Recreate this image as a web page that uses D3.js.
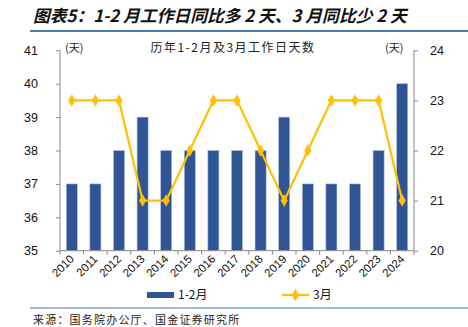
<!DOCTYPE html>
<html><head><meta charset="utf-8">
<script src="https://cdn.jsdelivr.net/npm/d3@7"></script>
<style>body{margin:0;background:#fff}svg{display:block}</style>
</head><body>
<script>
const years = ["2010","2011","2012","2013","2014","2015","2016","2017","2018","2019","2020","2021","2022","2023","2024"];
const janFeb = [37,37,38,39,38,38,38,38,38,39,37,37,37,38,40];
const march = [23,23,23,21,21,22,23,23,22,21,22,23,23,23,21];
const leftTicks = [35,36,37,38,39,40,41];
const rightTicks = [20,21,22,23,24];

const W = 468, H = 327;
const svg = d3.select("body").append("svg").attr("width", W).attr("height", H);
const num = "'Liberation Sans', Arial, sans-serif";
const cjk = "'Noto Sans CJK SC', sans-serif";

const x0 = 60, x1 = 414, yTop = 50.3, yBot = 250.7;
const x = d3.scaleBand().domain(years).range([x0, x1]).paddingInner(0.53).paddingOuter(0.265);
const xc = d3.scaleBand().domain(years).range([x0, x1]);
const yL = d3.scaleLinear().domain([35, 41]).range([yBot, yTop]);
const yR = d3.scaleLinear().domain([20, 24]).range([yBot, yTop]);

// title
svg.append("text").attr("x", 33).attr("y", 22).attr("font-family", cjk).attr("font-size", 16.8)
  .attr("font-weight", "bold").attr("font-style", "italic").attr("fill", "#111")
  .text("图表5：1-2 月工作日同比多 2 天、3 月同比少 2 天");
svg.append("line").attr("x1", 30).attr("x2", 468).attr("y1", 31).attr("y2", 31)
  .attr("stroke", "#4a7aa8").attr("stroke-width", 2);

// bars
svg.append("g").selectAll("rect").data(janFeb).join("rect")
  .attr("x", (d, i) => x(years[i])).attr("width", x.bandwidth())
  .attr("y", d => yL(d)).attr("height", d => yL(35) - yL(d))
  .attr("fill", "#2f5597").attr("stroke", "#b4c4e0").attr("stroke-width", 0.6);

// axes
const axisColor = "#888";
const gL = svg.append("g").attr("transform", `translate(${x0},0)`)
  .call(d3.axisLeft(yL).tickValues(leftTicks).tickSize(4).tickPadding(18).tickFormat(d3.format("d")));
const gR = svg.append("g").attr("transform", `translate(${x1},0)`)
  .call(d3.axisRight(yR).tickValues(rightTicks).tickSize(4).tickPadding(12).tickFormat(d3.format("d")));
[gL, gR].forEach(g => {
  g.select(".domain").attr("stroke", axisColor).attr("d", `M0,${yTop}V${yBot}`);
  g.selectAll(".tick line").attr("stroke", axisColor);
  g.selectAll("text").attr("font-family", num).attr("font-size", 12.5).attr("fill", "#111");
});

// x axis
svg.append("line").attr("x1", x0).attr("x2", x1).attr("y1", yBot).attr("y2", yBot).attr("stroke", axisColor);
svg.append("g").selectAll("line").data(years.concat(["end"])).join("line")
  .attr("x1", (d, i) => x0 + i * xc.step()).attr("x2", (d, i) => x0 + i * xc.step())
  .attr("y1", yBot).attr("y2", yBot + 4).attr("stroke", axisColor);
svg.append("g").selectAll("text").data(years).join("text")
  .attr("transform", d => `translate(${xc(d) + xc.bandwidth() / 2 + 3},${yBot + 9}) rotate(-45)`)
  .attr("text-anchor", "end").attr("font-family", num).attr("font-size", 11.5).attr("fill", "#111")
  .text(d => d);

// line
const lineGen = d3.line().x((d, i) => xc(years[i]) + xc.bandwidth() / 2).y(d => yR(d));
svg.append("path").datum(march).attr("d", lineGen).attr("fill", "none")
  .attr("stroke", "#ffc000").attr("stroke-width", 2.2);
const diamond = d3.symbol().type(d3.symbolDiamond).size(45);
svg.append("g").selectAll("path").data(march).join("path")
  .attr("transform", (d, i) => `translate(${xc(years[i]) + xc.bandwidth() / 2},${yR(d)})`)
  .attr("d", diamond).attr("fill", "#ffc000");

// inner labels
svg.append("text").attr("x", 65).attr("y", 52).attr("font-family", cjk).attr("font-size", 11).attr("fill", "#222").text("(天)");
svg.append("text").attr("x", 385).attr("y", 52).attr("font-family", cjk).attr("font-size", 11).attr("fill", "#222").text("(天)");
svg.append("text").attr("x", 233).attr("y", 52).attr("text-anchor", "middle").attr("font-family", cjk)
  .attr("font-size", 12).attr("letter-spacing", 1.5).attr("fill", "#222").text("历年1-2月及3月工作日天数");

// legend
svg.append("rect").attr("x", 147).attr("y", 292).attr("width", 27).attr("height", 6).attr("fill", "#2f5597");
svg.append("text").attr("x", 178).attr("y", 299).attr("font-family", cjk).attr("font-size", 12).attr("fill", "#111").text("1-2月");
svg.append("line").attr("x1", 282).attr("x2", 309).attr("y1", 295).attr("y2", 295).attr("stroke", "#ffc000").attr("stroke-width", 2.2);
svg.append("path").attr("transform", "translate(295.5,295)").attr("d", diamond).attr("fill", "#ffc000");
svg.append("text").attr("x", 313).attr("y", 299).attr("font-family", cjk).attr("font-size", 12).attr("fill", "#111").text("3月");

// bottom line and source
svg.append("line").attr("x1", 30).attr("x2", 468).attr("y1", 308).attr("y2", 308).attr("stroke", "#4a7aa8").attr("stroke-width", 1.2);
svg.append("text").attr("x", 33).attr("y", 324).attr("font-family", cjk).attr("font-size", 11)
  .attr("letter-spacing", 1.2).attr("fill", "#222")
  .text("来源：国务院办公厅、国金证券研究所");
</script>
</body></html>
